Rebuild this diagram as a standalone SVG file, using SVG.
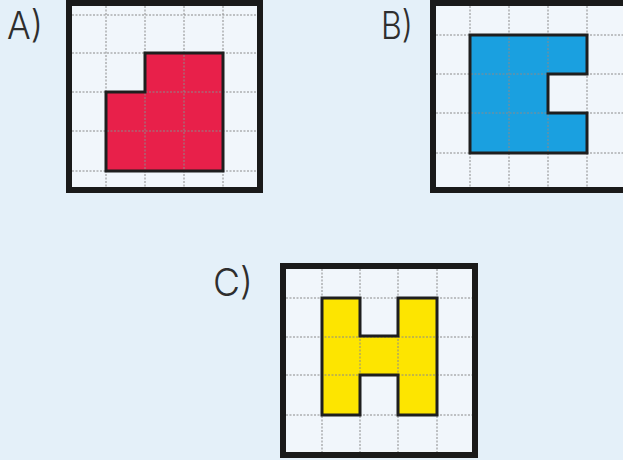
<svg xmlns="http://www.w3.org/2000/svg" width="623" height="460" viewBox="0 0 623 460">
<style>
.bg{fill:#e4f0f9}
.inner{fill:#f1f6fb}
.frame{fill:none;stroke:#1a1a1a;stroke-width:6}
.grid{stroke:#8a8a8a;stroke-width:1;stroke-dasharray:2,1.5;fill:none}
.outline{fill:none;stroke:#1e1e1e;stroke-width:3;stroke-linejoin:miter}
.lbl{font-family:Inter,"Liberation Sans",Arial,sans-serif;font-size:38px;fill:#2e2e2e;font-weight:300}
</style>
<rect class="bg" x="0" y="0" width="623" height="460"/>

<g id="panelA">
<rect class="inner" x="69" y="3" width="191" height="187"/>
<polygon fill="#e8204a" points="145,53 223,53 223,171 106,171 106,92 145,92"/>
<path class="grid" d="M106,6V187M145,6V187M184,6V187M223,6V187M72,15H260M72,53H260M72,92H260M72,131H260M72,171H260"/>
<polygon class="outline" points="145,53 223,53 223,171 106,171 106,92 145,92"/>
<rect class="frame" x="69" y="3" width="191" height="187"/>
<text class="lbl" x="7" y="39" textLength="36" lengthAdjust="spacingAndGlyphs">A)</text>
</g>

<g id="panelB">
<rect class="inner" x="433" y="3" width="200" height="187"/>
<polygon fill="#1aa0e0" points="470,35 587,35 587,74 548,74 548,113 587,113 587,153 470,153"/>
<path class="grid" d="M470,6V187M509,6V187M548,6V187M587,6V187M436,35H623M436,74H623M436,113H623M436,153H623"/>
<polygon class="outline" points="470,35 587,35 587,74 548,74 548,113 587,113 587,153 470,153"/>
<rect class="frame" x="433" y="3" width="200" height="187"/>
<text class="lbl" x="381" y="39" textLength="32" lengthAdjust="spacingAndGlyphs">B)</text>
</g>

<g id="panelC">
<rect class="inner" x="283" y="266" width="192" height="189"/>
<polygon fill="#fde500" points="322,298 360,298 360,336 398,336 398,298 437,298 437,415 398,415 398,375 360,375 360,415 322,415"/>
<path class="grid" d="M322,269V452M360,269V452M398,269V452M437,269V452M286,298H472M286,337H472M286,375H472M286,415H472"/>
<polygon class="outline" points="322,298 360,298 360,336 398,336 398,298 437,298 437,415 398,415 398,375 360,375 360,415 322,415"/>
<rect class="frame" x="283" y="266" width="192" height="189"/>
<text class="lbl" x="213" y="296" textLength="40" lengthAdjust="spacingAndGlyphs">C)</text>
</g>
</svg>
